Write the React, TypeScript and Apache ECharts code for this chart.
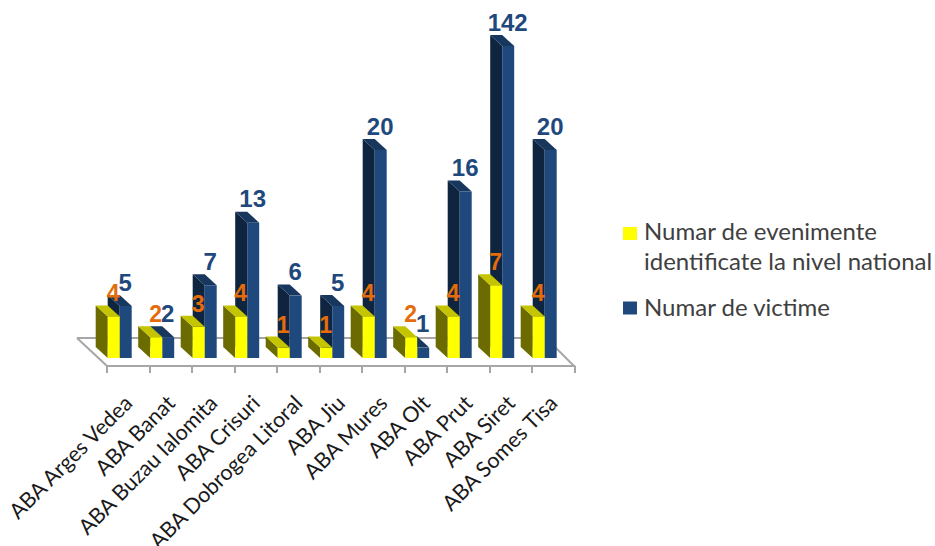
import React, { useEffect, useRef } from "react";
import * as echarts from "echarts";

const categories = [
  "ABA Arges Vedea", "ABA Banat", "ABA Buzau Ialomita", "ABA Crisuri", "ABA Dobrogea Litoral",
  "ABA Jiu", "ABA Mures", "ABA Olt", "ABA Prut", "ABA Siret", "ABA Somes Tisa",
];
const evenimente = [4, 2, 3, 4, 1, 1, 4, 2, 4, 7, 4];
const victime = [5, 2, 7, 13, 6, 5, 20, 1, 16, 142, 20];
const AXIS_MAX = 30; // the tallest column is cut off by the axis maximum
const EVENTS_NAME = "Numar de evenimente\nidentificate la nivel national";
const VICTIMS_NAME = "Numar de victime";

const BAR_W = 12;
const DX = 12;
const DY = 11;

function barSeries(name: string, values: number[], slot: number, z: number, c: any) {
  return {
    type: "custom",
    name,
    z,
    itemStyle: { color: c.front },
    encode: { x: 0, y: 1 },
    data: values.map((v, i) => [i, v]),
    renderItem(_p: any, api: any) {
      const i = api.value(0);
      const v = api.value(1);
      const top = api.coord([i, Math.min(v, AXIS_MAX)]);
      const base = api.coord([i, 0]);
      const band = api.size([1, 0])[0];
      const x0 = top[0] - band / 2 + 0.7 + slot * BAR_W;
      const x1 = x0 + BAR_W;
      const y0 = top[1];
      const y1 = base[1];
      return {
        type: "group",
        children: [
          { type: "polygon", shape: { points: [[x0, y0], [x0 - DX, y0 - DY], [x0 - DX, y1 - DY], [x0, y1]] }, style: { fill: c.side } },
          { type: "polygon", shape: { points: [[x0, y0], [x1, y0], [x1 - DX, y0 - DY], [x0 - DX, y0 - DY]] }, style: { fill: c.top } },
          { type: "rect", shape: { x: x0, y: y0, width: BAR_W, height: y1 - y0 }, style: { fill: c.front } },
          {
            type: "text",
            z2: 10,
            style: {
              text: String(v),
              x: x0 + 5.5,
              y: y0 - c.lift,
              fill: c.label,
              font: `${c.weight} ${c.size}px "Liberation Sans"`,
              align: "center",
              verticalAlign: "middle",
            },
          },
        ],
      };
    },
  };
}

const greyLine = { stroke: "#A6A6A6", lineWidth: 2 };

export default function App() {
  const ref = useRef<HTMLDivElement>(null);
  useEffect(() => {
    const chart = echarts.init(ref.current!, undefined, { renderer: "svg" });
    chart.setOption({
      animation: false,
      backgroundColor: "#fff",
      grid: { left: 107, top: 46, width: 467.5, height: 312, outerBoundsMode: "none" },
      xAxis: {
        type: "category",
        data: categories,
        offset: 8,
        axisLine: { onZero: false, lineStyle: { color: "#A6A6A6", width: 2 } },
        axisTick: { show: true, length: 7, lineStyle: { color: "#A6A6A6", width: 2 } },
        axisLabel: {
          interval: 0,
          rotate: 45,
          margin: 33,
          lineHeight: 30,
          color: "#1a1a1a",
          fontFamily: "Lato",
          fontSize: 21.5,
        },
      },
      yAxis: { type: "value", min: 0, max: AXIS_MAX, show: false },
      legend: {
        orient: "vertical",
        left: 623,
        top: 215,
        padding: 0,
        itemWidth: 16,
        itemHeight: 60,
        itemGap: 1,
        selectedMode: false,
        textStyle: { fontFamily: "Lato", fontSize: 24, color: "#404040", lineHeight: 30 },
        data: [
          { name: EVENTS_NAME, icon: "path://M0 0L16 0L0 0ZM0 12H14V25H0ZM0 60L16 60L0 60Z" },
          { name: VICTIMS_NAME, icon: "path://M0 0L16 0L0 0ZM0 25.5H14V38.5H0ZM0 60L16 60L0 60Z" },
        ],
      },
      graphic: [
        { type: "line", z: 1, shape: { x1: 77, y1: 338, x2: 107, y2: 366 }, style: greyLine },
        { type: "line", z: 1, shape: { x1: 77, y1: 338, x2: 546, y2: 338 }, style: greyLine },
        { type: "line", z: 1, shape: { x1: 546, y1: 338, x2: 574, y2: 366 }, style: greyLine },
      ],
      series: [
        barSeries(VICTIMS_NAME, victime, 1, 2, { front: "#1F497D", side: "#0F243E", top: "#17375E", label: "#1F497D", weight: "bold", size: 24, lift: 24 }),
        barSeries(EVENTS_NAME, evenimente, 0, 3, { front: "#FFFF00", side: "#6B6B00", top: "#C4C400", label: "#E46C0A", weight: "bold", size: 23, lift: 23 }),
      ],
    });
    return () => chart.dispose();
  }, []);
  return <div ref={ref} style={{ position: "fixed", left: 0, top: 0, width: 935, height: 546 }} />;
}
